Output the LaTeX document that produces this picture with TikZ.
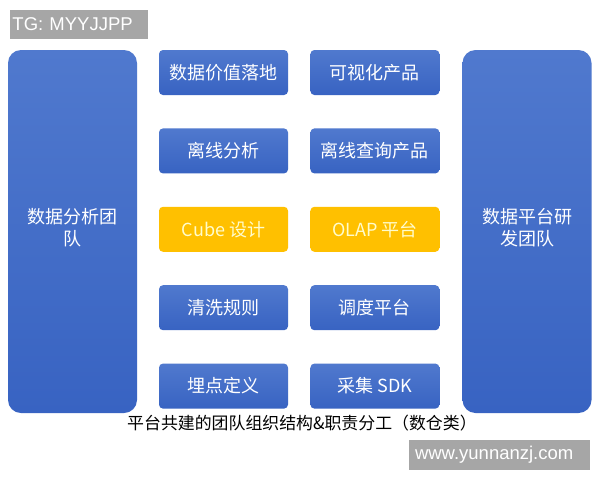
\documentclass[tikz,border=0pt]{standalone}
\usepackage{fontspec}
\setmainfont{Noto Sans CJK SC}
\newfontfamily\wmfont{Liberation Sans}
\usetikzlibrary{positioning}

\definecolor{boxtop}{HTML}{5079CE}
\definecolor{boxbot}{HTML}{3863C2}
\definecolor{cubeyellow}{HTML}{FFC000}
\definecolor{wmgray}{HTML}{A6A6A6}

\tikzset{
    team/.style={rectangle, rounded corners=13pt, top color=boxtop, bottom color=boxbot, draw=none,
        minimum width=129pt, minimum height=363pt, inner sep=0pt},
    teamtext/.style={text=white, inner sep=0pt, font=\fontsize{18}{22}\selectfont, align=center},
    duty/.style={rectangle, rounded corners=4pt, top color=boxtop, bottom color=boxbot, draw=none,
        minimum width=129pt, minimum height=45pt, inner sep=0pt, text=white,
        font=\fontsize{18}{20}\selectfont},
    shared/.style={duty, top color=cubeyellow, bottom color=cubeyellow, text=yellow!20},
    wmark/.style={rectangle, fill=wmgray, text=white, inner sep=0pt, font=\wmfont\fontsize{18.5}{20}\selectfont}
}

\begin{document}
\begin{tikzpicture}
    \useasboundingbox[fill=white] (0,0) rectangle (600pt,-480pt);

    \node[team] (analysis) at (72.5pt,-231.5pt) {};
    \node[team] (platform) at (527pt,-231.5pt) {};
    \node[teamtext, yshift=4pt] (analysistext) at (analysis.center) {数据分析团\\队};
    \node[teamtext, yshift=4pt] (platformtext) at (platform.center) {数据平台研\\发团队};

    \node[duty] (value) at (223.5pt,-72.5pt) {数据价值落地};
    \node[duty, below = 33pt of value] (offline) {离线分析};
    \node[shared, below = 33pt of offline] (cube) {Cube 设计};
    \node[duty, below = 33pt of cube] (clean) {清洗规则};
    \node[duty, below = 33pt of clean] (track) {埋点定义};

    \node[duty, right = 22pt of value] (vis) {可视化产品};
    \node[duty, right = 22pt of offline] (query) {离线查询产品};
    \node[shared, right = 22pt of cube] (olap) {OLAP 平台};
    \node[duty, right = 22pt of clean] (sched) {调度平台};
    \node[duty, right = 22pt of track] (collect) {采集 SDK};

    \node[font=\fontsize{16.9}{18}\selectfont, anchor=north west, inner sep=0pt] (caption) at (127pt,-415pt)
        {平台共建的团队组织结构\&职责分工（数仓类）};

    \node[wmark, minimum width=138pt, minimum height=29pt, text width=133pt] (tg) at (79pt,-24.5pt) {TG: MYYJJPP};
    \node[wmark, minimum width=181pt, minimum height=30pt, text width=169pt] (site) at (499.5pt,-455pt) {www.yunnanzj.com};
\end{tikzpicture}
\end{document}
